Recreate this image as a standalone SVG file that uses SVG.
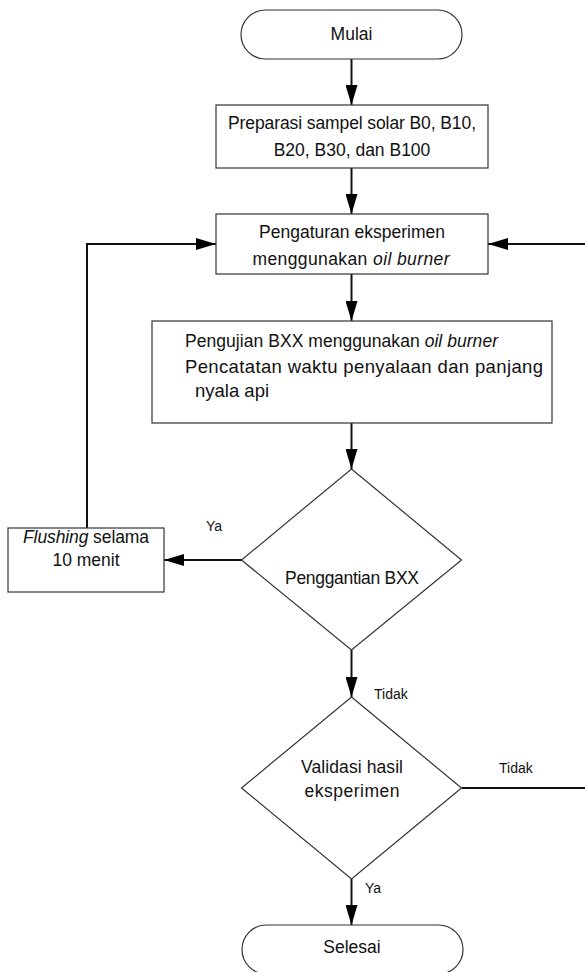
<svg xmlns="http://www.w3.org/2000/svg" width="585" height="972" viewBox="0 0 585 972">
<style>
.shape{fill:#fff;stroke:#333;stroke-width:1.2}
.t{font-family:"Liberation Sans",Arial,sans-serif;font-size:17.5px;fill:#111}
.big{font-size:18.5px}
.lbl{font-family:"Liberation Sans",Arial,sans-serif;font-size:14px;fill:#111}
.c{text-anchor:middle}
.conn{fill:none;stroke:#111;stroke-width:2}
</style>
<defs>
<marker id="arr" markerUnits="userSpaceOnUse" markerWidth="20" markerHeight="12" refX="20" refY="6" orient="auto">
<path d="M0,0 L20,6 L0,12 Z" fill="#000"/>
</marker>
</defs>
<rect width="585" height="972" fill="#fff"/>
<g id="connectors">
<path class="conn" d="M351.5,59 V105" marker-end="url(#arr)"/>
<path class="conn" d="M351.5,168 V214" marker-end="url(#arr)"/>
<path class="conn" d="M351.5,274 V321" marker-end="url(#arr)"/>
<path class="conn" d="M351.5,423 V469" marker-end="url(#arr)"/>
<path class="conn" d="M351.5,650 V697" marker-end="url(#arr)"/>
<path class="conn" d="M351.5,879 V925" marker-end="url(#arr)"/>
<path class="conn" d="M242,560 H164" marker-end="url(#arr)"/>
<path class="conn" d="M87,528 V244 H216" marker-end="url(#arr)"/>
<path class="conn" d="M462,788 H600 V244 H488" marker-end="url(#arr)"/>
<text class="lbl" x="206" y="531">Ya</text>
<text class="lbl" x="374" y="699">Tidak</text>
<text class="lbl" x="499" y="773">Tidak</text>
<text class="lbl" x="365" y="893">Ya</text>
</g>
<g id="mulai">
<rect class="shape" x="241" y="10" width="221" height="49" rx="24.5"/>
<text class="t c" x="351.5" y="40">Mulai</text>
</g>
<g id="preparasi">
<rect class="shape" x="216" y="105" width="272" height="63"/>
<text class="t c" x="352" y="129" textLength="248">Preparasi sampel solar B0, B10,</text>
<text class="t c" x="352" y="156">B20, B30, dan B100</text>
</g>
<g id="pengaturan">
<rect class="shape" x="216" y="214" width="272" height="60"/>
<text class="t c" x="352" y="238" textLength="186">Pengaturan eksperimen</text>
<text class="t c" x="351" y="265" textLength="197">menggunakan <tspan font-style="italic">oil burner</tspan></text>
</g>
<g id="pengujian">
<rect class="shape" x="152" y="321" width="400" height="102"/>
<text class="t" x="185" y="347" textLength="313">Pengujian BXX menggunakan <tspan font-style="italic">oil burner</tspan></text>
<text class="t big" x="185" y="373" textLength="358">Pencatatan waktu penyalaan dan panjang</text>
<text class="t big" x="195" y="397">nyala api</text>
</g>
<g id="penggantian">
<polygon class="shape" points="351.5,469 461.5,560 351.5,650 241.5,560"/>
<text class="t c" x="352" y="584" textLength="134">Penggantian BXX</text>
</g>
<g id="flushing">
<rect class="shape" x="8" y="528" width="156" height="64"/>
<text class="t c" x="86" y="543" textLength="126"><tspan font-style="italic">Flushing</tspan> selama</text>
<text class="t c" x="86" y="566">10 menit</text>
</g>
<g id="validasi">
<polygon class="shape" points="351.5,697 461.5,788 351.5,879 241.5,788"/>
<text class="t c" x="352" y="773" textLength="102">Validasi hasil</text>
<text class="t c" x="352" y="797" textLength="95">eksperimen</text>
</g>
<g id="selesai">
<rect class="shape" x="242" y="925" width="221" height="49" rx="24.5"/>
<text class="t c" x="352" y="953">Selesai</text>
</g>
</svg>
